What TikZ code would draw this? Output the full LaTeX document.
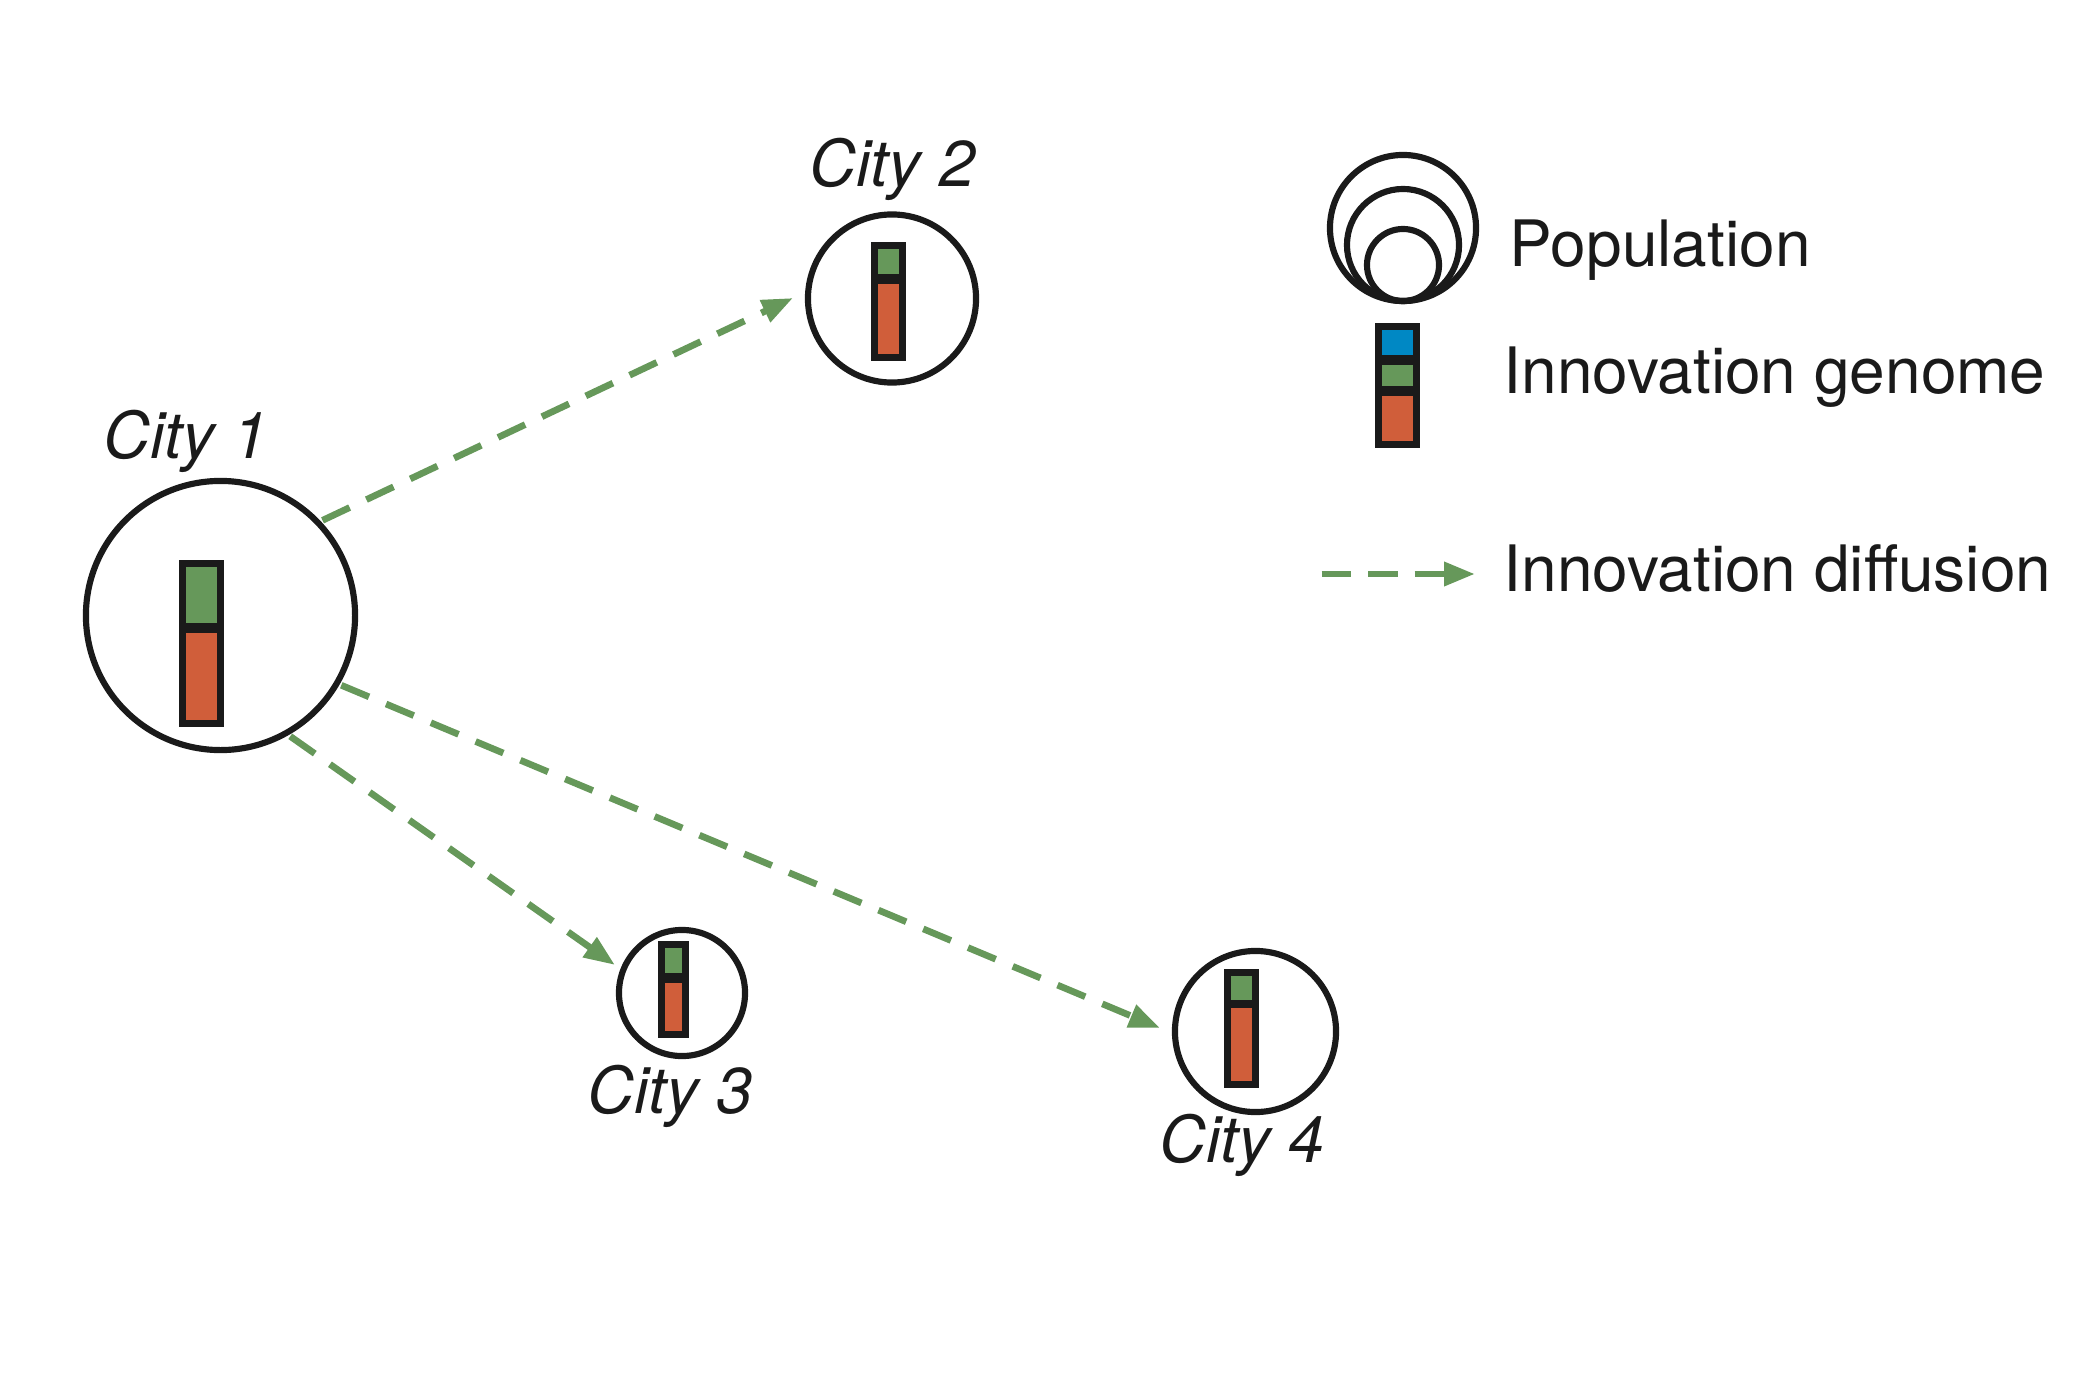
\documentclass[tikz,border=0pt]{standalone}
\usepackage{fontspec}
\setmainfont{TeX Gyre Heros}
\usetikzlibrary{arrows.meta}
\definecolor{gr}{HTML}{66985A}
\definecolor{rd}{HTML}{D05E3A}
\definecolor{bl}{HTML}{0088C4}
\definecolor{ink}{HTML}{1A1A1A}
% bar: x1 y1 x2 y2 divider-y divider-width
\newcommand\genbar[6]{%
  \fill[gr] (#1,#2) rectangle (#3,#5);
  \fill[rd] (#1,#5) rectangle (#3,#4);
  \draw[ink, line width=#6] (#1,#5) -- (#3,#5);
  \draw[ink, line width=2pt] (#1,#2) rectangle (#3,#4);
}
\begin{document}
\begin{tikzpicture}[x=0.01cm,y=-0.01cm,
  city/.style={circle, draw=ink, line width=1.75pt, inner sep=0pt, outer sep=1.4pt},
  popcirc/.style={circle, draw=ink, line width=1.75pt, inner sep=0pt, outer sep=0pt},
  citylabel/.style={font=\fontsize{18.4}{22}\selectfont\itshape, inner sep=0pt, anchor=base, text=ink},
  legtext/.style={font=\fontsize{18.2}{22}\selectfont, inner sep=0pt, anchor=base west, text=ink},
  diffarrow/.style={draw=gr, line width=1.9pt, dash pattern=on 0.30cm off 0.185cm,
    -{Triangle[length=0.31cm,width=0.23cm]}}]
\useasboundingbox (0,0) rectangle (2100,1394);

% cities
\node[city, minimum size=2.69cm] (c1) at (220.5,615.5) {};
\node[city, minimum size=1.68cm] (c2) at (892,298.5) {};
\node[city, minimum size=1.26cm] (c3) at (682,993) {};
\node[city, minimum size=1.61cm] (c4) at (1255.5,1031.5) {};

% genome bars
\genbar{182.5}{563.5}{220.5}{723.5}{628}{2.9pt}
\genbar{874.5}{245.5}{902.5}{357.5}{279}{2.8pt}
\genbar{661.2}{944.5}{685.5}{1034.8}{977.7}{2.8pt}
\genbar{1227.5}{972.5}{1255.5}{1084.5}{1004}{2.1pt}

% labels
\node[citylabel] (l1) at (186,458) {City 1};
\node[citylabel] (l2) at (892.5,187) {City 2};
\node[citylabel] (l3) at (670,1113) {City 3};
\node[citylabel] (l4) at (1242,1162) {City 4};

% diffusion arrows
\coordinate (t2) at (793,298);
\coordinate (t3) at (615,965);
\coordinate (t4) at (1160,1028);
\draw[diffarrow] (c1.43.6) -- (t2);
\draw[diffarrow] (c1.-60.4) -- (t3);
\draw[diffarrow] (c1.-30.9) -- (t4);

% legend: population
\node[popcirc, minimum size=1.46cm] (p1) at (1403,228) {};
\node[popcirc, minimum size=1.12cm] (p2) at (1403,245) {};
\node[popcirc, minimum size=0.72cm] (p3) at (1403,265) {};
\node[legtext] (lp) at (1509,267) {Population};

% legend: genome
\fill[bl] (1378.5,326.5) rectangle (1416.5,360);
\fill[gr] (1378.5,360) rectangle (1416.5,391);
\fill[rd] (1378.5,391) rectangle (1416.5,444.5);
\draw[ink, line width=2.9pt] (1378.5,360) -- (1416.5,360);
\draw[ink, line width=2.9pt] (1378.5,391) -- (1416.5,391);
\draw[ink, line width=2pt] (1378.5,326.5) rectangle (1416.5,444.5);
\node[legtext] (lg) at (1503,393) {Innovation genome};

% legend: diffusion
\coordinate (a1) at (1321.5,574);
\coordinate (a2) at (1475,574);
\draw[diffarrow, dash pattern=on 0.295cm off 0.17cm] (a1) -- (a2);
\node[legtext] (ld) at (1503,591) {Innovation diffusion};
\end{tikzpicture}
\end{document}
